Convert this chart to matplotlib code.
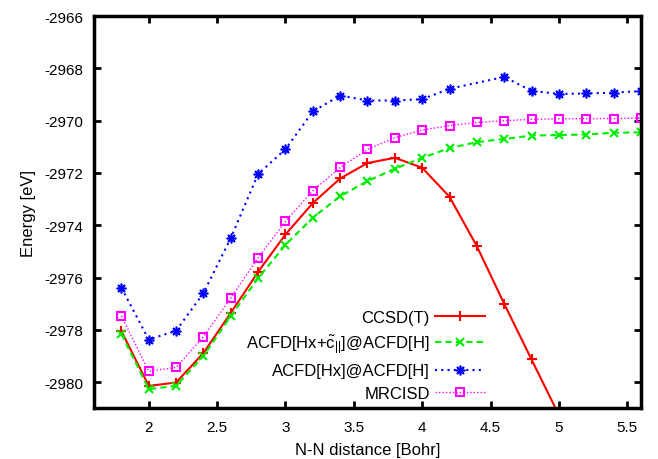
import numpy as np
from matplotlib import pyplot as plt

plt.rcParams['font.family'] = ['Liberation Sans', 'DejaVu Sans']
plt.rcParams['mathtext.fontset'] = 'custom'
plt.rcParams['mathtext.rm'] = 'Liberation Sans'
plt.rcParams['mathtext.it'] = 'Liberation Sans'
plt.rcParams['axes.unicode_minus'] = False

# N-N distance [Bohr]
r = [1.8, 2.0, 2.2, 2.4, 2.6, 2.8, 3.0, 3.2, 3.4, 3.6, 3.8, 4.0,
     4.2, 4.4, 4.6, 4.8, 5.0, 5.2, 5.4, 5.6]

r_ccsdt = [1.8, 2.0, 2.2, 2.4, 2.6, 2.8, 3.0, 3.2, 3.4, 3.6, 3.8, 4.0,
           4.2, 4.4, 4.6, 4.8, 5.0]
ccsdt = [-2978.05, -2980.14, -2980.01, -2978.88, -2977.35, -2975.78,
         -2974.35, -2973.15, -2972.21, -2971.62, -2971.42, -2971.80,
         -2972.91, -2974.80, -2977.00, -2979.13, -2981.25]

acfd_c = [-2978.16, -2980.26, -2980.14, -2979.00, -2977.47, -2976.02,
          -2974.75, -2973.71, -2972.89, -2972.31, -2971.84, -2971.42,
          -2971.05, -2970.82, -2970.70, -2970.57, -2970.55, -2970.53,
          -2970.46, -2970.45]

# no point at 4.4 for this one
r_hx = [1.8, 2.0, 2.2, 2.4, 2.6, 2.8, 3.0, 3.2, 3.4, 3.6, 3.8, 4.0,
        4.2, 4.6, 4.8, 5.0, 5.2, 5.4, 5.6]
acfd_hx = [-2976.39, -2978.37, -2978.03, -2976.59, -2974.49, -2972.04,
           -2971.09, -2969.65, -2969.04, -2969.23, -2969.23, -2969.18,
           -2968.78, -2968.33, -2968.86, -2968.98, -2968.96, -2968.93,
           -2968.87]

mrcisd = [-2977.47, -2979.58, -2979.43, -2978.26, -2976.78, -2975.24,
          -2973.85, -2972.68, -2971.79, -2971.10, -2970.65, -2970.36,
          -2970.19, -2970.07, -2970.00, -2969.95, -2969.93, -2969.92,
          -2969.92, -2969.90]

fig = plt.figure(figsize=(6.58, 4.6), dpi=100)
ax = fig.add_axes([0.143, 0.11, 0.831, 0.853])

ax.plot(r_ccsdt, ccsdt, color='#ff0000', lw=1.5, marker='+', ms=7, mew=1.5,
        label='CCSD(T)')
ax.plot(r, acfd_c, color='#00ee00', lw=1.5, ls=(0, (3, 2)), marker='x', ms=6, mew=1.5,
        label=r'ACFD[Hx+$\tilde{\mathrm{c}}_{||}$]@ACFD[H]')
ax.plot(r_hx, acfd_hx, color='#0000ff', lw=1.5, ls=(0, (1, 2)), marker=(8, 2, 0),
        ms=7, mew=1.2, label='ACFD[Hx]@ACFD[H]')
ax.plot(r, mrcisd, color='#ff00ff', lw=1.0, ls=(0, (1, 1.5)), marker='s', ms=6,
        mew=1.5, mfc='none', label='MRCISD')

ax.set_xlim(1.6, 5.6)
ax.set_ylim(-2981, -2966)
ax.set_xticks(np.arange(2, 5.51, 0.5))
ax.set_xticklabels(['2', '2.5', '3', '3.5', '4', '4.5', '5', '5.5'])
ax.set_yticks(np.arange(-2980, -2965, 2))
ax.tick_params(direction='in', top=True, right=True, length=5, width=2,
               labelsize=11, pad=8)
for s in ax.spines.values():
    s.set_linewidth(2.5)

ax.set_xlabel('N-N distance [Bohr]', fontsize=12, labelpad=6)
ax.set_ylabel('Energy [eV]', fontsize=12, labelpad=6)

ax.legend(loc='lower right', bbox_to_anchor=(0.728, 0.002), frameon=False,
          markerfirst=False, fontsize=12, handlelength=3.0, labelspacing=0.45,
          handletextpad=0.35, borderaxespad=0.0)

plt.savefig('out.png', dpi=100)
